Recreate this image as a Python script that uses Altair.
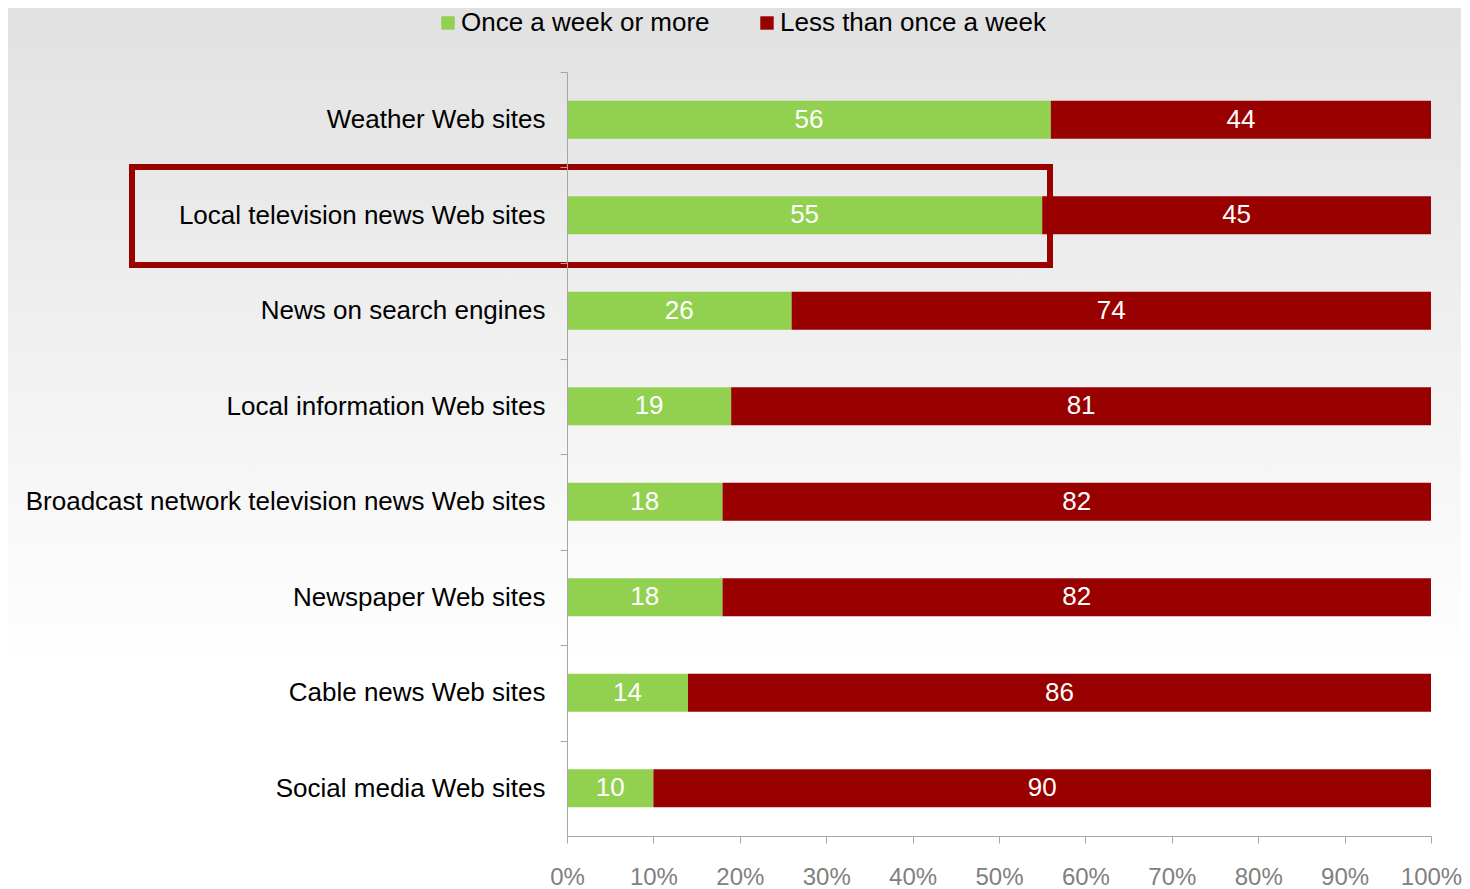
import altair as alt
import pandas as pd

categories = [
    "Weather Web sites",
    "Local television news Web sites",
    "News on search engines",
    "Local information Web sites",
    "Broadcast network television news Web sites",
    "Newspaper Web sites",
    "Cable news Web sites",
    "Social media Web sites",
]
weekly = [56, 55, 26, 19, 18, 18, 14, 10]
less_often = [44, 45, 74, 81, 82, 82, 86, 90]
series = ["Once a week or more", "Less than once a week"]
colors = ["#92D050", "#990000"]
x_ticks = [0, 10, 20, 30, 40, 50, 60, 70, 80, 90, 100]

rows = []
for c, a, b in zip(categories, weekly, less_often):
    rows.append({"category": c, "series": series[0], "value": a, "ord": 0})
    rows.append({"category": c, "series": series[1], "value": b, "ord": 1})
df = pd.DataFrame(rows)

W, H = 864, 764
step = H / len(categories)
FONT = "Liberation Sans"

y_enc = alt.Y(
    "category:N",
    sort=categories,
    scale=alt.Scale(paddingInner=0.6, paddingOuter=0.3),
    axis=alt.Axis(
        title=None,
        bandPosition=0,
        tickOffset=-step * 0.3,
        labelOffset=step * 0.3,
        tickSize=7,
        tickColor="#A6A6A6",
        domainColor="#A6A6A6",
        labelPadding=15,
        labelFontSize=26,
        labelFont=FONT,
        labelColor="#000000",
        labelLimit=700,
        grid=False,
        zindex=1,
    ),
)

x_scale = alt.Scale(domain=[0, 100], nice=False)

bars = alt.Chart(df).mark_bar().encode(
    x=alt.X(
        "value:Q",
        stack="zero",
        scale=x_scale,
        axis=alt.Axis(
            title=None,
            values=x_ticks,
            labelExpr="datum.value + '%'",
            labelOverlap=False,
            labelFlush=False,
            grid=False,
            tickSize=7,
            tickColor="#A6A6A6",
            domainColor="#A6A6A6",
            labelPadding=22,
            labelFontSize=24,
            labelFont=FONT,
            labelColor="#808080",
            zindex=1,
        ),
    ),
    y=y_enc,
    color=alt.Color(
        "series:N",
        sort=series,
        scale=alt.Scale(domain=series, range=colors),
        legend=alt.Legend(
            title=None,
            orient="none",
            direction="horizontal",
            legendX=-132,
            legendY=-62,
            symbolType="square",
            symbolSize=180,
            symbolStrokeWidth=0,
            labelFontSize=26,
            labelFont=FONT,
            labelColor="#000000",
            labelOffset=0,
            labelLimit=500,
            columnPadding=44,
            zindex=1,
        ),
    ),
    order=alt.Order("ord:Q"),
)

labels = (
    alt.Chart(df)
    .transform_stack(
        stack="value",
        groupby=["category"],
        as_=["v0", "v1"],
        sort=[alt.SortField("ord", order="ascending")],
    )
    .transform_calculate(mid="(datum.v0 + datum.v1) / 2")
    .mark_text(color="white", fontSize=26, font=FONT, baseline="middle", align="center")
    .encode(
        x=alt.X("mid:Q", scale=x_scale),
        y=alt.Y("category:N", sort=categories),
        text=alt.Text("value:Q"),
    )
)

bg = (
    alt.Chart(pd.DataFrame({"k": [0]}))
    .mark_rect(
        fill=alt.Gradient(
            gradient="linear",
            x1=0, x2=0, y1=0, y2=1,
            stops=[
                alt.GradientStop(offset=0, color="#E1E1E1"),
                alt.GradientStop(offset=0.75, color="#FFFFFF"),
                alt.GradientStop(offset=1, color="#FFFFFF"),
            ],
        )
    )
    .encode(
        x=alt.value(-559), x2=alt.value(894),
        y=alt.value(-64), y2=alt.value(812),
    )
)

highlight = (
    alt.Chart(pd.DataFrame({"k": [0]}))
    .mark_rect(fillOpacity=0, stroke="#990000", strokeWidth=6)
    .encode(
        x=alt.value(-435), x2=alt.value(483),
        y=alt.value(95), y2=alt.value(193),
    )
)

chart = (
    alt.layer(bg, bars, labels, highlight)
    .resolve_scale(y="shared", x="shared")
    .properties(width=W, height=H, padding=0)
    .configure_view(stroke=None)
    .configure(background="white")
)

chart.save("out.html", embed_options={"renderer": "svg", "actions": False})
